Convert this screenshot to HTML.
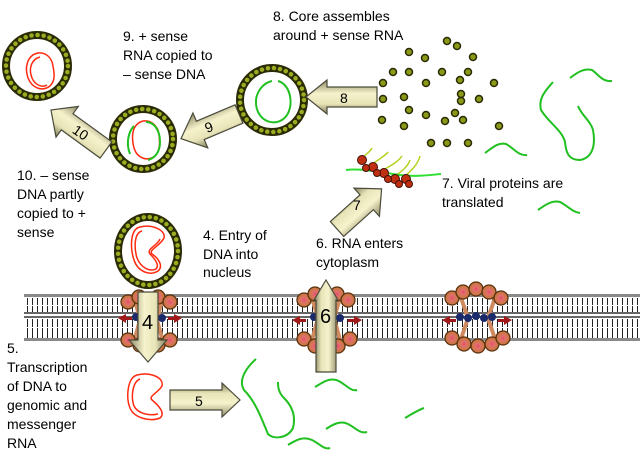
<!DOCTYPE html>
<html><head><meta charset="utf-8"><style>
html,body{margin:0;padding:0;background:#fff;}
svg{display:block;}
text{font-family:"Liberation Sans",Arial,sans-serif;font-size:14px;fill:#000;}
</style></head><body>
<svg width="640" height="458" viewBox="0 0 640 458" xmlns="http://www.w3.org/2000/svg">
<defs>
<linearGradient id="ag" x1="0" y1="0" x2="0" y2="1">
<stop offset="0" stop-color="#7c7a58"/><stop offset="0.3" stop-color="#e8e4b8"/><stop offset="0.6" stop-color="#f6f2cc"/><stop offset="1" stop-color="#8e8a66"/>
</linearGradient>
<radialGradient id="sp" cx="0.5" cy="0.5" r="0.5">
<stop offset="0" stop-color="#e84870"/><stop offset="0.35" stop-color="#e0706a"/><stop offset="1" stop-color="#c47838"/>
</radialGradient>
<pattern id="tk" x="0" y="0" width="5" height="10" patternUnits="userSpaceOnUse">
<rect x="2" y="0" width="1" height="10" fill="#222"/>
</pattern>
<g id="sph"><circle r="7" fill="url(#sp)" stroke="#5a3210" stroke-width="1.3"/></g>
</defs>

<!-- membrane -->
<g>
<rect x="24" y="294" width="616" height="3" fill="#8a8a8a"/>
<rect x="24" y="298" width="616" height="9" fill="url(#tk)"/>
<rect x="24" y="305" width="616" height="1" fill="#fff"/>
<rect x="24" y="306" width="616" height="6" fill="url(#tk)"/>
<rect x="24" y="312" width="616" height="2" fill="#666"/>
<rect x="24" y="316" width="616" height="2" fill="#666"/>
<rect x="24" y="319" width="616" height="9" fill="url(#tk)"/>
<rect x="24" y="327" width="616" height="1" fill="#fff"/>
<rect x="24" y="328" width="616" height="10" fill="url(#tk)"/>
<rect x="24" y="338" width="616" height="3" fill="#8a8a8a"/>
</g>

<!-- pores -->
<g fill="none" stroke="#d08a60" stroke-width="4">
<path d="M135 300 L140 320 L135 338 M162 300 L157 320 L162 338"/>
<path d="M312 298 L318 318 L312 340 M340 298 L334 318 L340 340"/>
<path d="M460 295 L468 318 L460 342 M496 295 L488 318 L496 342"/>
</g>
<g fill="#1a2a6a">
<circle cx="136" cy="317" r="4"/><circle cx="143" cy="318" r="4"/><circle cx="155" cy="317" r="4"/><circle cx="162" cy="318" r="4"/>
<circle cx="314" cy="317" r="4"/><circle cx="321" cy="318" r="4"/><circle cx="333" cy="317" r="4"/><circle cx="340" cy="318" r="4"/>
<circle cx="460" cy="317" r="4"/><circle cx="468" cy="318" r="4"/><circle cx="476" cy="316" r="4"/><circle cx="484" cy="318" r="4"/><circle cx="492" cy="317" r="4"/>
</g>
<g fill="#a01818">
<path d="M118 318 l8 -4 v3 h6 v3 h-6 v3z"/><path d="M182 318 l-8 -4 v3 h-6 v3 h6 v3z"/>
<path d="M292 320 l8 -4 v3 h6 v3 h-6 v3z"/><path d="M362 320 l-8 -4 v3 h-6 v3 h6 v3z"/>
<path d="M442 320 l8 -4 v3 h6 v3 h-6 v3z"/><path d="M512 320 l-8 -4 v3 h-6 v3 h6 v3z"/>
</g>
<g>
<use href="#sph" x="128" y="302"/><use href="#sph" x="139" y="297"/><use href="#sph" x="158" y="297"/><use href="#sph" x="170" y="302"/>
<use href="#sph" x="128" y="340"/><use href="#sph" x="140" y="345"/><use href="#sph" x="158" y="345"/><use href="#sph" x="170" y="340"/>
<use href="#sph" x="304" y="300"/><use href="#sph" x="315" y="294"/><use href="#sph" x="337" y="294"/><use href="#sph" x="348" y="300"/>
<use href="#sph" x="304" y="339"/><use href="#sph" x="315" y="346"/><use href="#sph" x="338" y="346"/><use href="#sph" x="350" y="339"/>
<use href="#sph" x="452" y="298"/><use href="#sph" x="463" y="292"/><use href="#sph" x="476" y="289"/><use href="#sph" x="489" y="292"/><use href="#sph" x="501" y="298"/>
<use href="#sph" x="452" y="338"/><use href="#sph" x="464" y="344"/><use href="#sph" x="478" y="346"/><use href="#sph" x="492" y="344"/><use href="#sph" x="503" y="338"/>
</g>

<!-- capsids -->
<g fill="none">
<circle cx="37" cy="66" r="31" stroke="#2a2a05" stroke-width="8"/>
<circle cx="37" cy="66" r="31" stroke="#9aac20" stroke-width="4.5" stroke-dasharray="0.1 6" stroke-linecap="round"/>
<circle cx="143" cy="139" r="30" stroke="#2a2a05" stroke-width="8"/>
<circle cx="143" cy="139" r="30" stroke="#9aac20" stroke-width="4.5" stroke-dasharray="0.1 6" stroke-linecap="round"/>
<circle cx="272" cy="100" r="32" stroke="#2a2a05" stroke-width="8"/>
<circle cx="272" cy="100" r="32" stroke="#9aac20" stroke-width="4.5" stroke-dasharray="0.1 6" stroke-linecap="round"/>
<ellipse cx="148" cy="251" rx="30" ry="34" stroke="#2a2a05" stroke-width="8"/>
<ellipse cx="148" cy="251" rx="30" ry="34" stroke="#9aac20" stroke-width="4.5" stroke-dasharray="0.1 6" stroke-linecap="round"/>
</g>

<!-- genomes -->
<g fill="none" stroke="#ff2a10" stroke-width="1.5">
<path d="M38 53 C28 55 24 66 28 78 C32 88 42 92 50 86 C56 80 54 72 53 66 C52 58 46 52 38 53Z"/>
<path d="M40 57 C32 59 28 68 32 78 C35 85 42 88 47 85"/>
<path d="M143 121 C132 124 131 136 134 148 C137 158 147 162 155 156 C161 150 160 138 158 130 C155 124 150 120 143 121Z"/>
<path d="M140 227 C130 229 130 248 134 260 C138 272 150 276 158 271 C164 266 158 258 152 254 C148 250 160 246 164 238 C166 230 152 224 140 227Z"/>
<path d="M142 231 C134 233 134 248 137 258 C141 268 150 272 156 269 C160 265 154 258 150 254 C146 249 157 246 160 239"/>
<path d="M137 375 C127 378 126 398 130 408 C134 418 150 422 160 418 C166 413 158 405 152 400 C148 396 158 393 162 386 C164 377 150 372 137 375Z"/>
<path d="M140 379 C132 382 131 398 134 406 C138 414 150 416 158 414"/>
</g>
<g fill="none" stroke="#20c020" stroke-width="2">
<path d="M134 126 C128 132 126 144 130 154 M146 122 C154 122 160 130 160 142 C160 152 155 158 148 160"/>
<path d="M272 81 C262 83 255 94 256 104 C257 116 266 124 277 122 C289 119 292 106 290 96 C288 86 282 82 278 81"/>
<path d="M256 359 C246 368 238 380 244 390 C256 402 262 420 268 434 C274 440 288 438 293 428 C296 416 292 406 284 398 C278 392 278 386 278 382"/>
<path d="M315 387 C322 383 328 378 336 380 C344 382 350 392 357 390"/>
<path d="M326 429 C332 425 340 420 348 424 C356 428 360 434 367 432"/>
<path d="M288 445 C296 440 303 436 312 440 C320 444 324 450 330 448"/>
<path d="M405 418 C412 414 418 410 424 408"/>
<path d="M553 82 C546 90 538 98 541 110 C548 122 562 130 565 142 C566 152 568 160 580 160 C592 158 596 146 593 130 C590 120 582 116 578 106"/>
<path d="M570 78 C578 72 584 68 592 70 C598 74 602 82 612 81"/>
<path d="M485 153 C492 148 498 142 506 144 C514 148 518 156 527 155"/>
<path d="M538 210 C545 205 552 200 560 202 C568 206 572 212 580 213"/>
</g>

<!-- translation complex -->
<g fill="none" stroke="#b8d020" stroke-width="1.5">
<path d="M362 158 C366 154 370 152 372 148"/><path d="M372 164 C378 160 385 156 388 152"/>
<path d="M383 170 C390 166 398 162 402 156"/><path d="M394 176 C402 172 408 166 410 160"/>
<path d="M405 176 C412 170 418 164 420 156"/>
</g>
<path d="M346 170 C360 168 380 172 400 175 C415 177 430 175 441 174" fill="none" stroke="#30e030" stroke-width="2"/>
<g fill="#c03010" stroke="#401008" stroke-width="1">
<circle cx="362" cy="160" r="4.5"/><circle cx="373" cy="167" r="4.5"/><circle cx="384" cy="173" r="4.5"/><circle cx="395" cy="179" r="4.5"/><circle cx="406" cy="179" r="4.5"/>
<circle cx="366" cy="168" r="3.5"/><circle cx="377" cy="173" r="3.5"/><circle cx="388" cy="179" r="3.5"/><circle cx="399" cy="184" r="3.5"/><circle cx="409" cy="184" r="3.5"/>
</g>

<!-- free capsomers -->
<g fill="#8a9a18" stroke="#2a2a05" stroke-width="1.5">
<circle cx="447" cy="41" r="3.5"/><circle cx="457" cy="46" r="3.5"/><circle cx="409" cy="52" r="3.5"/><circle cx="425" cy="58" r="3.5"/><circle cx="473" cy="57" r="3.5"/>
<circle cx="393" cy="72" r="3.5"/><circle cx="409" cy="72" r="3.5"/><circle cx="442" cy="72" r="3.5"/><circle cx="468" cy="72" r="3.5"/>
<circle cx="383" cy="83" r="3.5"/><circle cx="426" cy="83" r="3.5"/><circle cx="460" cy="80" r="3.5"/><circle cx="494" cy="83" r="3.5"/>
<circle cx="383" cy="99" r="3.5"/><circle cx="404" cy="97" r="3.5"/><circle cx="461" cy="94" r="3.5"/><circle cx="461" cy="101" r="3.5"/><circle cx="479" cy="99" r="3.5"/>
<circle cx="409" cy="110" r="3.5"/><circle cx="426" cy="115" r="3.5"/><circle cx="455" cy="113" r="3.5"/>
<circle cx="382" cy="120" r="3.5"/><circle cx="404" cy="126" r="3.5"/><circle cx="445" cy="121" r="3.5"/><circle cx="463" cy="120" r="3.5"/><circle cx="499" cy="126" r="3.5"/>
<circle cx="431" cy="143" r="3.5"/><circle cx="447" cy="143" r="3.5"/><circle cx="468" cy="143" r="3.5"/>
</g>

<!-- arrows -->
<g fill="url(#ag)" stroke="#4a4a3a" stroke-width="1.2">
<g transform="translate(106,150) rotate(216)"><path d="M0 -10 H48 V-19 L68 0 L48 19 V10 H0Z"/></g>
<g transform="translate(239,114) rotate(157)"><path d="M0 -10 H42 V-19 L63 0 L42 19 V10 H0Z"/></g>
<g transform="translate(377,97) rotate(180)"><path d="M0 -10 H50 V-17 L71 0 L50 17 V10 H0Z"/></g>
<g transform="translate(337,229) rotate(-42)"><path d="M0 -10 H40 V-19 L60 0 L40 19 V10 H0Z"/></g>
<g transform="translate(148,292) rotate(90)"><path d="M0 -10 H48 V-19 L70 0 L48 19 V10 H0Z"/></g>
<g transform="translate(326,372) rotate(-90)"><path d="M0 -10 H72 V-12 L92 0 L72 12 V10 H0Z"/></g>
<g transform="translate(170,400) rotate(0)"><path d="M0 -10 H52 V-17 L70 0 L52 17 V10 H0Z"/></g>
</g>
<g style="font-size:15px">
<text x="73" y="137" transform="rotate(35 80 132)">10</text>
<text x="205" y="132" transform="rotate(-22 209 127)">9</text>
<text x="340" y="103">8</text>
<text x="353" y="210">7</text>
<text x="142" y="329" style="font-size:20px">4</text>
<text x="320" y="323" style="font-size:20px">6</text>
<text x="195" y="406">5</text>
</g>

<!-- labels -->
<text x="273" y="21">8. Core assembles</text>
<text x="273" y="40">around + sense RNA</text>
<text x="123" y="41">9. + sense</text>
<text x="123" y="60">RNA copied to</text>
<text x="123" y="79">– sense DNA</text>
<text x="17" y="180">10. – sense</text>
<text x="17" y="199">DNA partly</text>
<text x="17" y="218">copied to +</text>
<text x="17" y="237">sense</text>
<text x="203" y="240">4. Entry of</text>
<text x="203" y="259">DNA into</text>
<text x="203" y="277">nucleus</text>
<text x="316" y="248">6. RNA enters</text>
<text x="316" y="267">cytoplasm</text>
<text x="442" y="188">7. Viral proteins are</text>
<text x="442" y="207">translated</text>
<text x="7" y="353">5.</text>
<text x="7" y="372">Transcription</text>
<text x="7" y="391">of DNA to</text>
<text x="7" y="410">genomic and</text>
<text x="7" y="429">messenger</text>
<text x="7" y="448">RNA</text>
</svg>
</body></html>
